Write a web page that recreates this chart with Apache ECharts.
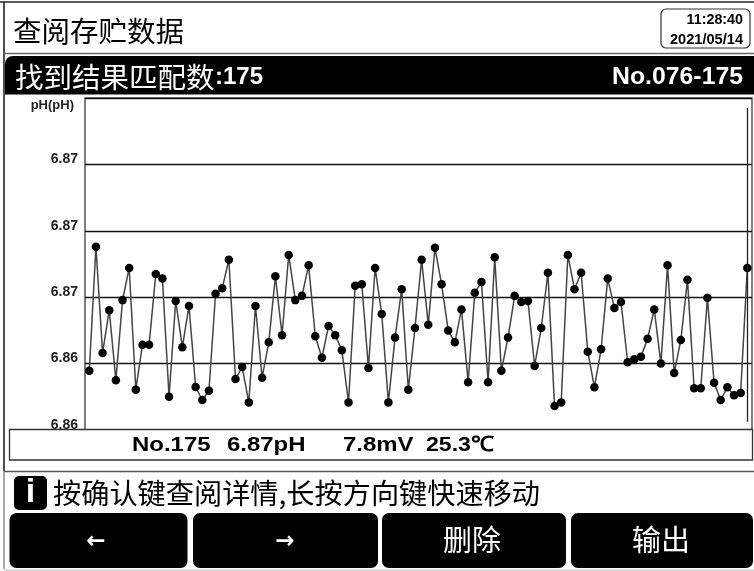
<!DOCTYPE html>
<html><head><meta charset="utf-8">
<style>html,body{margin:0;padding:0;background:#fff}#c{width:754px;height:571px}</style>
<script src="https://cdn.jsdelivr.net/npm/echarts@6/dist/echarts.min.js"></script>
</head><body><div id="c"></div>
<script>
const firstNo = 76;
const phValues = [
6.86223,6.86690,6.86290,6.86451,6.86187,6.86489,6.86610,6.86152,6.86321,6.86321,
6.86587,6.86570,6.86125,6.86486,6.86312,6.86467,6.86162,6.86113,6.86148,6.86513,
6.86534,6.86641,6.86192,6.86237,6.86104,6.86467,6.86197,6.86330,6.86579,6.86357,
6.86659,6.86489,6.86505,6.86620,6.86353,6.86272,6.86392,6.86357,6.86300,6.86104,
6.86543,6.86549,6.86233,6.86610,6.86437,6.86104,6.86348,6.86530,6.86152,6.86384,
6.86641,6.86396,6.86686,6.86549,6.86375,6.86330,6.86454,6.86180,6.86517,6.86557,
6.86180,6.86650,6.86223,6.86348,6.86505,6.86482,6.86486,6.86241,6.86384,6.86592,
6.86090,6.86104,6.86659,6.86530,6.86592,6.86295,6.86161,6.86304,6.86570,6.86459,
6.86482,6.86255,6.86266,6.86276,6.86344,6.86454,6.86250,6.86620,6.86215,6.86339,
6.86566,6.86157,6.86157,6.86498,6.86178,6.86113,6.86161,6.86131,6.86139,6.86610];
const yTickLabels = ['6.86','6.86','6.87','6.87','6.87','pH(pH)'];
const titleText = '查阅存贮数据';
const matchText = '找到结果匹配数';
const matchCount = ':175';
const rangeText = 'No.076-175';
const timeText = '11:28:40';
const dateText = '2021/05/14';
const readout = ['No.175','6.87pH','7.8mV','25.3℃'];
const hintText = '按确认键查阅详情,长按方向键快速移动';
const buttons = ['←','→','删除','输出'];

const CJK = '"Noto Sans CJK SC"';
const LAT = '"Liberation Sans"';
function txt(x,y,text,size,opt){opt=opt||{};return {type:'text',x:x,y:y,silent:true,z:opt.z||20,scaleX:opt.sx||1,style:{
  text:text,fontSize:size,fontFamily:opt.font||CJK,fontWeight:opt.weight||'normal',
  fill:opt.fill||'#000',align:opt.align||'left',verticalAlign:'middle'}};}
function box(x,y,w,h,opt){opt=opt||{};return {type:'rect',silent:true,z:opt.z||1,
  shape:{x:x,y:y,width:w,height:h,r:opt.r||0},
  style:{fill:opt.fill||'#000',stroke:opt.stroke||null,lineWidth:opt.lw||0}};}
function line(x1,y1,x2,y2,c,w){return {type:'line',silent:true,z:2,shape:{x1:x1,y1:y1,x2:x2,y2:y2},style:{stroke:c,lineWidth:w}};}

const chart = echarts.init(document.getElementById('c'),null,{renderer:'canvas'});
chart.setOption({
  animation:false,
  backgroundColor:'#fff',
  grid:{left:85,right:2,top:98,bottom:141,show:true,borderColor:'#555',borderWidth:1.5,backgroundColor:'#fff'},
  xAxis:{type:'value',min:75.353,max:175.707,show:false},
  yAxis:{type:'value',min:6.86,max:6.8725,interval:0.0025,
    axisLine:{show:false},axisTick:{show:false},
    splitLine:{show:true,lineStyle:{color:'#111',width:1.3}},
    axisLabel:{margin:7,color:'#222',fontFamily:LAT,fontWeight:'bold',fontSize:14,lineHeight:10,
      verticalAlign:'bottom',verticalAlignMaxLabel:'top',
      formatter:function(v){const i=Math.round((v-6.86)/0.0025);
        return i===5?'{u|'+yTickLabels[i]+'}':yTickLabels[i];},
      rich:{u:{fontFamily:LAT,fontWeight:'bold',fontSize:13,color:'#222',lineHeight:14,padding:[1,4,0,0]}}}},
  series:[{type:'line',data:phValues.map(function(v,i){return [firstNo+i,v];}),
    symbol:'circle',symbolSize:8.5,showSymbol:true,showAllSymbol:true,
    itemStyle:{color:'#000'},lineStyle:{color:'#444',width:1.5},
    markLine:{silent:true,symbol:'none',label:{show:false},
      lineStyle:{color:'#222',width:1.3,type:'solid'},
      data:[[{coord:[175,6.87212]},{coord:[175,6.86031]}]]}}],
  graphic:{elements:[
    line(0,2,754,2,'#222',1.5),
    line(4,2,4,471,'#222',1.6),
    line(4,471,4,569,'#555',1),
    line(4,53.5,754,53.5,'#666',1.5),
    line(4,471.5,754,471.5,'#555',1.5),
    line(4,570,754,570,'#bbb',1),
    txt(13,31,titleText,28.5),
    box(661,9,89,39,{fill:'#fff',stroke:'#333',lw:1.2,r:5}),
    txt(743,20,timeText,14.3,{font:LAT,weight:'bold',align:'right'}),
    txt(743,40,dateText,14.6,{font:LAT,weight:'bold',align:'right'}),
    box(5,56,749,38.5,{r:[8,0,0,0]}),
    txt(15,77,matchText,28.5,{fill:'#fff'}),
    txt(215,77,matchCount,24,{font:LAT,weight:'bold',fill:'#fff'}),
    txt(743,77,rangeText,24.8,{font:LAT,weight:'bold',fill:'#fff',align:'right'}),
    box(9.5,429.5,743,30.5,{fill:'#fff',stroke:'#333',lw:1.3,z:10}),
    txt(132,445,readout[0],21,{font:LAT,weight:'bold',sx:1.14}),
    txt(227,445,readout[1],21,{font:LAT,weight:'bold',sx:1.14}),
    txt(343,445,readout[2],21,{font:LAT,weight:'bold',sx:1.14}),
    txt(426,445,readout[3],21,{font:LAT,weight:'bold',sx:1.1}),
    box(14,476,33,34,{r:5}),
    txt(30.5,493,'i',34,{font:LAT,weight:'bold',fill:'#fff',align:'center'}),
    txt(53,493,hintText,28.2),
    box(9.5,513,178,55,{r:7}),
    box(193,513,185,55,{r:7}),
    box(382,513,184,55,{r:7}),
    box(571,513,182,55,{r:7}),
    txt(96,542,buttons[0],23,{font:'"DejaVu Sans"',weight:'bold',fill:'#fff',align:'center'}),
    txt(285,542,buttons[1],23,{font:'"DejaVu Sans"',weight:'bold',fill:'#fff',align:'center'}),
    txt(472,540,buttons[2],29,{fill:'#fff',align:'center'}),
    txt(661,540,buttons[3],29,{fill:'#fff',align:'center'})
  ]}
});
</script></body></html>
